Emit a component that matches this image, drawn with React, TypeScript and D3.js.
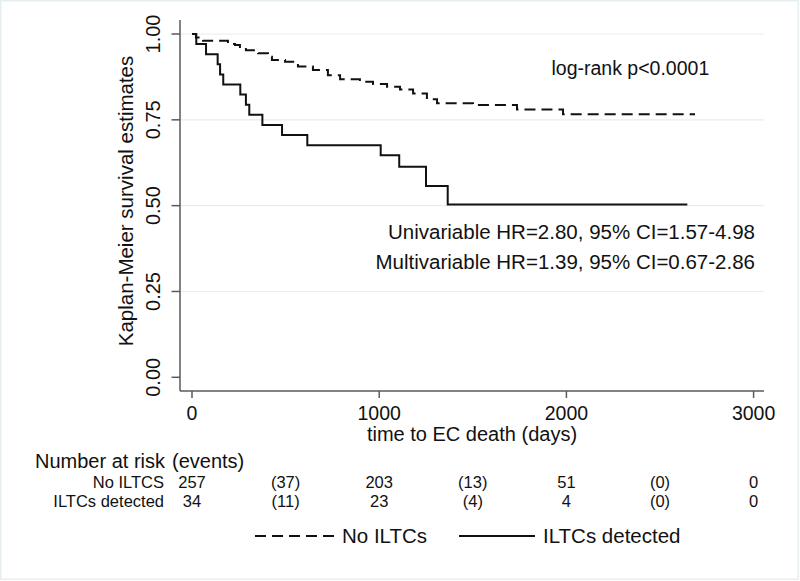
import React from "react";
import * as d3 from "d3";

const W = 800;
const H = 581;

// Kaplan-Meier step data
const noIltcTimes = [0, 21, 43, 59, 192, 230, 256, 288, 353, 406, 427, 497, 566, 646, 726, 791, 897, 967, 1042, 1111, 1181, 1255, 1309, 1501, 1736, 1982];
const noIltcSurv = [1, 0.99, 0.986, 0.98, 0.971, 0.968, 0.962, 0.953, 0.944, 0.934, 0.924, 0.919, 0.905, 0.895, 0.88, 0.868, 0.861, 0.854, 0.846, 0.838, 0.827, 0.81, 0.798, 0.793, 0.78, 0.766];
const noIltcEnd = 2687;

const iltcTimes = [0, 23, 75, 137, 150, 167, 258, 288, 306, 376, 481, 616, 1008, 1107, 1250, 1366];
const iltcSurv = [1, 0.971, 0.941, 0.912, 0.882, 0.853, 0.824, 0.794, 0.765, 0.735, 0.706, 0.676, 0.647, 0.613, 0.557, 0.503];
const iltcEnd = 2646;

const xTicks = [0, 1000, 2000, 3000];
const yTicks = [0, 0.25, 0.5, 0.75, 1];
const yGrid = [0.25, 0.5, 0.75, 1];

const riskTimes = [0, 1000, 2000, 3000];
const riskNo = [257, 203, 51, 0];
const eventsNo = [37, 13, 0];
const riskIltc = [34, 23, 4, 0];
const eventsIltc = [11, 4, 0];

const seriesLabels = ["No ILTCs", "ILTCs detected"];
const rowLabels = ["No ILTCS", "ILTCs detected"];

const FONT = "'Liberation Sans', Arial, Helvetica, sans-serif";

export default function App() {
  const x = d3.scaleLinear().domain([0, 3000]).range([192, 753.6]);
  const y = d3.scaleLinear().domain([0, 1]).range([377.3, 34]);
  const xLeft = 180;
  const xRight = 764;
  const yBottom = 391;
  const yTop = 20;

  const line = d3
    .line<[number, number]>()
    .x((d) => x(d[0]))
    .y((d) => y(d[1]))
    .curve(d3.curveStepAfter);

  const mk = (times: number[], surv: number[], end: number): [number, number][] => {
    const pts: [number, number][] = times.map((t, i) => [t, surv[i]]);
    pts.push([end, surv[surv.length - 1]]);
    return pts;
  };

  const noPath = line(mk(noIltcTimes, noIltcSurv, noIltcEnd)) || "";
  const ilPath = line(mk(iltcTimes, iltcSurv, iltcEnd)) || "";

  const axisColor = "#5a5a5a";
  const gridColor = "#e6eef1";

  const mids = riskTimes.slice(0, -1).map((t, i) => (t + riskTimes[i + 1]) / 2);

  return (
    <svg
      width={W}
      height={H}
      style={{ position: "absolute", left: 0, top: 0, background: "#fff" }}
      fontFamily={FONT}
    >
      <rect x={0.75} y={0.75} width={797.5} height={578.5} fill="#fff" stroke={gridColor} strokeWidth={1.5} />

      {/* grid */}
      {yGrid.map((v) => (
        <line key={"g" + v} x1={xLeft} x2={xRight} y1={y(v)} y2={y(v)} stroke={gridColor} strokeWidth={1.2} />
      ))}

      {/* axes */}
      <line x1={xLeft} x2={xLeft} y1={yTop} y2={yBottom} stroke={axisColor} strokeWidth={1.5} />
      <line x1={xLeft} x2={xRight} y1={yBottom} y2={yBottom} stroke={axisColor} strokeWidth={1.5} />
      {yTicks.map((v) => (
        <g key={"yt" + v}>
          <line x1={xLeft - 8.5} x2={xLeft} y1={y(v)} y2={y(v)} stroke={axisColor} strokeWidth={1.5} />
          <text
            transform={`translate(${160},${y(v)}) rotate(-90)`}
            textAnchor="middle"
            fontSize={20}
            fill="#111"
          >
            {d3.format(".2f")(v)}
          </text>
        </g>
      ))}
      {xTicks.map((v) => (
        <g key={"xt" + v}>
          <line x1={x(v)} x2={x(v)} y1={yBottom} y2={yBottom + 7} stroke={axisColor} strokeWidth={1.5} />
          <text x={x(v)} y={420} textAnchor="middle" fontSize={19.5} fill="#111">
            {v}
          </text>
        </g>
      ))}
      <text
        transform={`translate(${133},${201}) rotate(-90)`}
        textAnchor="middle"
        fontSize={20.5}
        fill="#111"
      >
        Kaplan-Meier survival estimates
      </text>
      <text x={(xLeft + xRight) / 2} y={441} textAnchor="middle" fontSize={20} fill="#111">
        time to EC death (days)
      </text>

      {/* curves */}
      <path d={noPath} fill="none" stroke="#111" strokeWidth={2} strokeDasharray="11 6" />
      <path d={ilPath} fill="none" stroke="#111" strokeWidth={2} />

      {/* annotations */}
      <text x={551.5} y={75} fontSize={19.5} fill="#111">
        log-rank p&lt;0.0001
      </text>
      <text x={755} y={239} textAnchor="end" fontSize={20.5} fill="#111">
        Univariable HR=2.80, 95% CI=1.57-4.98
      </text>
      <text x={755} y={269} textAnchor="end" fontSize={20.5} fill="#111">
        Multivariable HR=1.39, 95% CI=0.67-2.86
      </text>

      {/* risk table */}
      <text x={35} y={468} fontSize={20} fill="#111">
        Number at risk
      </text>
      <text x={172} y={468} fontSize={20} fill="#111">
        (events)
      </text>
      {[riskNo, riskIltc].map((row, ri) => {
        const yy = 488 + ri * 19;
        const ev = ri === 0 ? eventsNo : eventsIltc;
        return (
          <g key={"r" + ri}>
            <text x={164} y={yy} textAnchor="end" fontSize={16.5} fill="#111">
              {rowLabels[ri]}
            </text>
            {row.map((n, i) => (
              <text key={"n" + i} x={x(riskTimes[i])} y={yy} textAnchor="middle" fontSize={16.5} fill="#111">
                {n}
              </text>
            ))}
            {ev.map((n, i) => (
              <text key={"e" + i} x={x(mids[i])} y={yy} textAnchor="middle" fontSize={16.5} fill="#111">
                ({n})
              </text>
            ))}
          </g>
        );
      })}

      {/* legend */}
      <line x1={255} x2={334} y1={536} y2={536} stroke="#111" strokeWidth={2} strokeDasharray="11 6" />
      <text x={342} y={543} fontSize={20.5} fill="#111">
        {seriesLabels[0]}
      </text>
      <line x1={459} x2={535} y1={536} y2={536} stroke="#111" strokeWidth={2} />
      <text x={543} y={543} fontSize={20.5} fill="#111">
        {seriesLabels[1]}
      </text>
    </svg>
  );
}
